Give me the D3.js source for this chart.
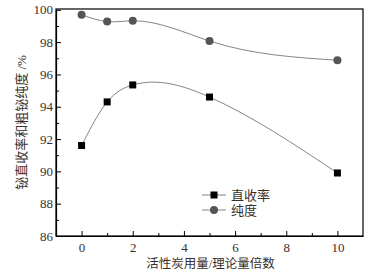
<!DOCTYPE html>
<html lang="zh">
<head>
    <meta charset="UTF-8">
    <title>铋直收率和粗铋纯度</title>
    <script src="https://d3js.org/d3.v7.min.js"></script>
    <style>
        body { margin: 0; background: #fff; }
        text {
            font-family: "Liberation Serif", "Noto Sans CJK SC", serif;
            fill: #3a302a;
        }
        .domain { stroke: #000; stroke-width: 1.2px; }
        .tick line { stroke: #000; }
    </style>
</head>
<body>
    <svg width="371" height="274"></svg>

    <script>
        // 数据
        const xValues = [0, 1, 2, 5, 10];
        const yieldValues = [91.6, 94.3, 95.35, 94.6, 89.9];   // 直收率
        const purityValues = [99.7, 99.27, 99.32, 98.07, 96.88]; // 纯度
        const xTicks = [0, 2, 4, 6, 8, 10];
        const yTicks = [86, 88, 90, 92, 94, 96, 98, 100];
        const seriesNames = ["直收率", "纯度"];

        // 以 x 为自变量的自然三次样条 (d3 自定义 curve)
        function NaturalX(context) { this._context = context; }
        NaturalX.prototype = {
            areaStart() { this._line = 0; },
            areaEnd() { this._line = NaN; },
            lineStart() { this._x = []; this._y = []; },
            point(x, y) { this._x.push(+x); this._y.push(+y); },
            lineEnd() {
                const X = this._x, Y = this._y, n = X.length, c = this._context;
                if (!n) return;
                c.moveTo(X[0], Y[0]);
                if (n < 3) { if (n === 2) c.lineTo(X[1], Y[1]); return; }
                const h = [], s = [];
                for (let i = 0; i < n - 1; i++) { h.push(X[i + 1] - X[i]); s.push((Y[i + 1] - Y[i]) / h[i]); }
                // 三对角方程求二阶导 M
                const M = new Array(n).fill(0);
                const a = [], b = [], cc = [], d = [];
                for (let i = 1; i < n - 1; i++) {
                    a.push(h[i - 1]); b.push(2 * (h[i - 1] + h[i])); cc.push(h[i]); d.push(6 * (s[i] - s[i - 1]));
                }
                const m = b.length;
                for (let i = 1; i < m; i++) {
                    const w = a[i] / b[i - 1];
                    b[i] -= w * cc[i - 1]; d[i] -= w * d[i - 1];
                }
                const sol = new Array(m);
                sol[m - 1] = d[m - 1] / b[m - 1];
                for (let i = m - 2; i >= 0; i--) sol[i] = (d[i] - cc[i] * sol[i + 1]) / b[i];
                for (let i = 0; i < m; i++) M[i + 1] = sol[i];
                for (let i = 0; i < n - 1; i++) {
                    const k0 = s[i] - h[i] * (2 * M[i] + M[i + 1]) / 6;
                    const k1 = s[i] + h[i] * (M[i] + 2 * M[i + 1]) / 6;
                    c.bezierCurveTo(
                        X[i] + h[i] / 3, Y[i] + k0 * h[i] / 3,
                        X[i + 1] - h[i] / 3, Y[i + 1] - k1 * h[i] / 3,
                        X[i + 1], Y[i + 1]);
                }
            }
        };
        const curveNaturalX = context => new NaturalX(context);

        const svg = d3.select("svg");
        const margin = {left: 56, top: 9, right: 8, bottom: 38};
        const W = 371, H = 274;

        const x = d3.scaleLinear().domain([-1, 11]).range([margin.left, W - margin.right]);
        const y = d3.scaleLinear().domain([86, 100.05]).range([H - margin.bottom, margin.top]);

        // 坐标框
        svg.append("rect")
            .attr("x", margin.left).attr("y", margin.top)
            .attr("width", W - margin.right - margin.left)
            .attr("height", H - margin.bottom - margin.top)
            .attr("fill", "none").attr("stroke", "#000").attr("stroke-width", 1.2);

        // x 轴 (刻度朝内)
        const xAxis = svg.append("g")
            .attr("transform", `translate(0,${H - margin.bottom})`)
            .call(d3.axisBottom(x).tickValues(xTicks).tickSizeInner(-5).tickSizeOuter(0).tickPadding(7));
        xAxis.selectAll(".tick text").style("font-size", "13px");
        svg.append("g")
            .attr("transform", `translate(0,${H - margin.bottom})`)
            .call(d3.axisBottom(x).tickValues([1, 3, 5, 7, 9]).tickSizeInner(-3).tickSizeOuter(0).tickFormat(""))
            .select(".domain").remove();

        // y 轴
        const yAxis = svg.append("g")
            .attr("transform", `translate(${margin.left},0)`)
            .call(d3.axisLeft(y).tickValues(yTicks).tickSizeInner(-5).tickSizeOuter(0).tickPadding(3));
        yAxis.selectAll(".tick text").style("font-size", "13px");
        svg.append("g")
            .attr("transform", `translate(${margin.left},0)`)
            .call(d3.axisLeft(y).tickValues([87, 89, 91, 93, 95, 97, 99]).tickSizeInner(-3).tickSizeOuter(0).tickFormat(""))
            .select(".domain").remove();

        // 轴标题
        svg.append("text")
            .attr("x", (margin.left + W - margin.right) / 2 + 1)
            .attr("y", 268)
            .attr("text-anchor", "middle")
            .style("font-size", "12.5px")
            .text("活性炭用量/理论量倍数");

        svg.append("text")
            .attr("transform", `translate(26,${(margin.top + H - margin.bottom) / 2}) rotate(-90)`)
            .attr("text-anchor", "middle")
            .style("font-size", "13px")
            .text("铋直收率和粗铋纯度 /%");

        const line = d3.line()
            .x(d => x(d[0]))
            .y(d => y(d[1]))
            .curve(curveNaturalX);

        const yieldData = xValues.map((v, i) => [v, yieldValues[i]]);
        const purityData = xValues.map((v, i) => [v, purityValues[i]]);

        svg.append("path").datum(yieldData)
            .attr("d", line).attr("fill", "none")
            .attr("stroke", "#777").attr("stroke-width", 0.9);
        svg.append("path").datum(purityData)
            .attr("d", line).attr("fill", "none")
            .attr("stroke", "#777").attr("stroke-width", 0.9);

        svg.selectAll(".sq").data(yieldData).enter().append("rect")
            .attr("x", d => x(d[0]) - 3.5).attr("y", d => y(d[1]) - 3.5)
            .attr("width", 7).attr("height", 7).attr("fill", "#000");

        svg.selectAll(".ci").data(purityData).enter().append("circle")
            .attr("cx", d => x(d[0])).attr("cy", d => y(d[1]))
            .attr("r", 4).attr("fill", "#555");

        // 图例
        const legend = svg.append("g").attr("transform", "translate(202,195)");
        seriesNames.forEach((name, i) => {
            const g = legend.append("g").attr("transform", `translate(0,${i * 15})`);
            g.append("line").attr("x1", 0).attr("x2", 24).attr("y1", 0).attr("y2", 0)
                .attr("stroke", "#777").attr("stroke-width", 0.9);
            if (i === 0) {
                g.append("rect").attr("x", 8.5).attr("y", -3.5).attr("width", 7).attr("height", 7).attr("fill", "#000");
            } else {
                g.append("circle").attr("cx", 12).attr("cy", 0).attr("r", 4).attr("fill", "#555");
            }
            g.append("text").attr("x", 29).attr("y", 0).attr("dy", "0.35em")
                .style("font-size", "13px").text(name);
        });
    </script>
</body>
</html>
